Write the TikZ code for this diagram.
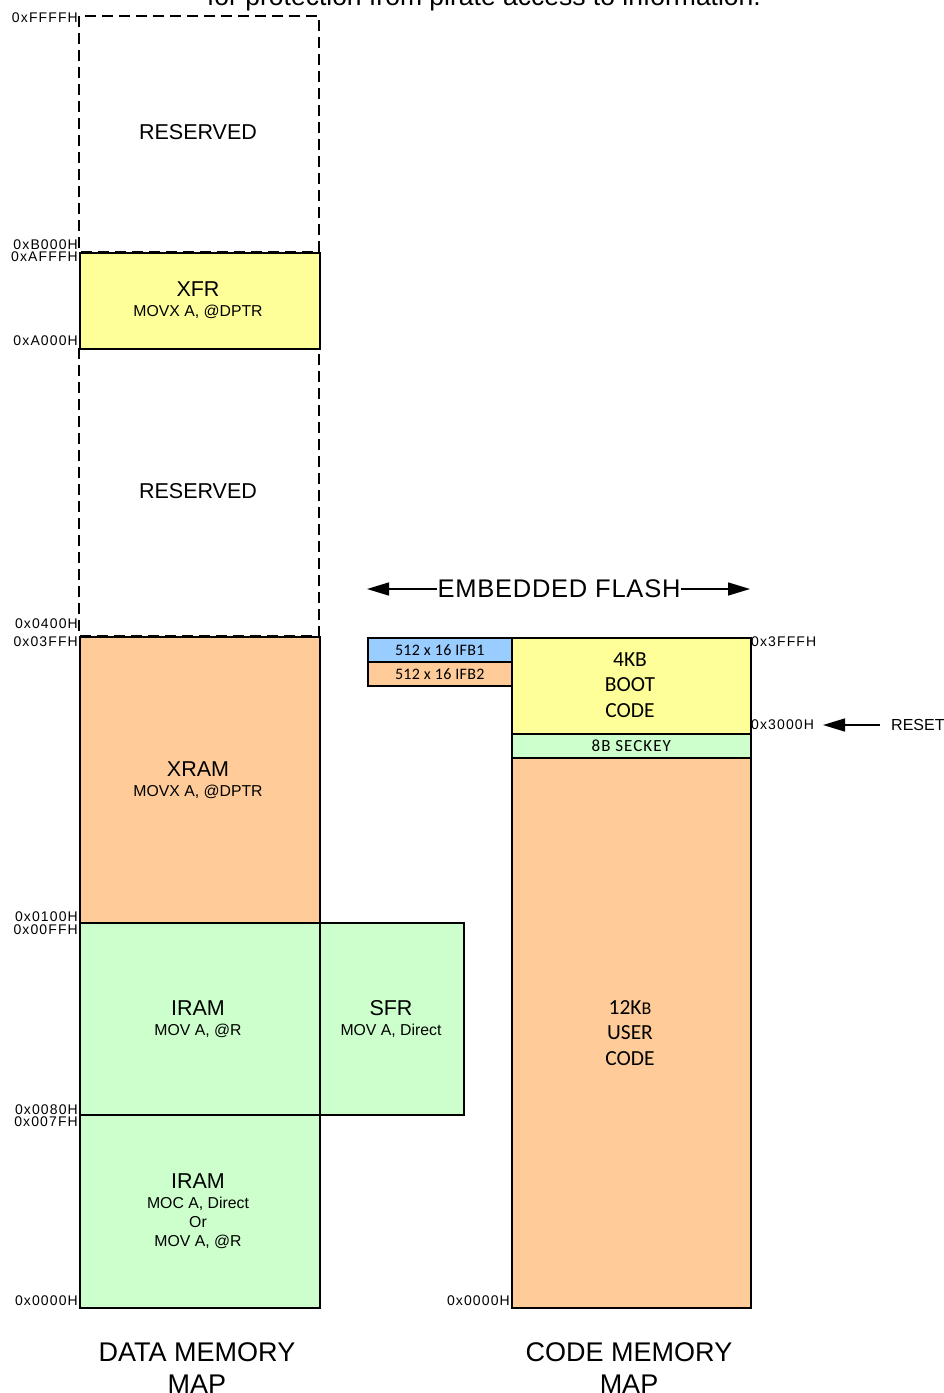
\documentclass[tikz,border=0pt]{standalone}
\usepackage{fontspec}
\setmainfont{Liberation Sans}
\newfontfamily\calib{Carlito}
\usetikzlibrary{arrows.meta}
\definecolor{cyel}{HTML}{FFFF99}
\definecolor{corg}{HTML}{FFCC99}
\definecolor{cgrn}{HTML}{CCFFCC}
\definecolor{cblu}{HTML}{99CCFF}
\tikzset{
  blk/.style={draw=black, line width=1.5pt},
  dsh/.style={draw=black, line width=1.2pt, dash pattern=on 11pt off 6pt},
  big/.style={font=\fontsize{21.5}{23}\selectfont, inner sep=0pt},
  sub/.style={font=\fontsize{15.8}{19}\selectfont, inner sep=0pt, align=center},
  cal/.style={font=\calib\fontsize{21.5}{25.5}\selectfont, inner sep=0pt, align=center},
  calsm/.style={font=\calib\fontsize{16}{17}\selectfont\addfontfeature{LetterSpace=2}, inner sep=0pt},
  addr/.style={font=\fontsize{14}{14}\selectfont\addfontfeature{LetterSpace=8}, inner sep=0pt},
  title/.style={font=\fontsize{27}{32}\selectfont, inner sep=0pt, align=center},
  arr/.style={line width=1.5pt, -{Triangle[length=22pt,width=13pt]}}
}
\begin{document}
\begin{tikzpicture}[x=1pt,y=-1pt]
\useasboundingbox (0,0) rectangle (944,1393);
% cut-off caption at top
\node[font=\fontsize{26.5}{28}\selectfont, inner sep=0pt, anchor=base] (cap) at (484,5) {for protection from pirate access to information.};
% ---------- data memory ----------
\draw[dsh] (79,16) rectangle (319,252);
\draw[dsh] (79,348) rectangle (319,636);
\node[blk, fill=cyel, minimum width=240pt, minimum height=96pt, anchor=north west, inner sep=0pt] (xfr) at (79,252) {};
\node[blk, fill=corg, minimum width=240pt, minimum height=286pt, anchor=north west, inner sep=0pt] (xram) at (79,636) {};
\node[blk, fill=cgrn, minimum width=240pt, minimum height=192pt, anchor=north west, inner sep=0pt] (iram1) at (79,922) {};
\node[blk, fill=cgrn, minimum width=144pt, minimum height=192pt, anchor=north west, inner sep=0pt] (sfr) at (319,922) {};
\node[blk, fill=cgrn, minimum width=240pt, minimum height=193pt, anchor=north west, inner sep=0pt] (iram2) at (79,1114) {};

\node[big] (res1) at (198,132) {RESERVED};
\node[big] (res2) at (198,491) {RESERVED};
\node[big] (t1) at (198,289) {XFR};
\node[sub] (s1) at (198,312) {MOVX A, @DPTR};
\node[big] (t2) at (198,769) {XRAM};
\node[sub] (s2) at (198,792) {MOVX A, @DPTR};
\node[big] (t3) at (198,1008) {IRAM};
\node[sub] (s3) at (198,1031) {MOV A, @R};
\node[big] (t4) at (391,1008) {SFR};
\node[sub] (s4) at (391,1031) {MOV A, Direct};
\node[big] (t5) at (198,1181) {IRAM};
\node[sub, anchor=north] (s5) at (198,1197) {MOC A, Direct\\Or\\MOV A, @R};

\node[addr, anchor=east] (aFFFF) at (78,18) {0xFFFFH};
\node[addr, anchor=east] (aB000) at (78,245) {0xB000H};
\node[addr, anchor=east] (aAFFF) at (78,257) {0xAFFFH};
\node[addr, anchor=east] (aA000) at (78,341) {0xA000H};
\node[addr, anchor=east] (a0400) at (78,624) {0x0400H};
\node[addr, anchor=east] (a03FF) at (78,642) {0x03FFH};
\node[addr, anchor=east] (a0100) at (78,917) {0x0100H};
\node[addr, anchor=east] (a00FF) at (78,930) {0x00FFH};
\node[addr, anchor=east] (a0080) at (78,1110) {0x0080H};
\node[addr, anchor=east] (a007F) at (78,1122) {0x007FH};
\node[addr, anchor=east] (a0000) at (78,1301) {0x0000H};

\node[title] (dmap) at (197,1368) {DATA MEMORY\\MAP};

% ---------- code memory ----------
\node[blk, fill=cyel, minimum width=239pt, minimum height=96pt, anchor=north west, inner sep=0pt] (boot) at (511,637) {};
\node[blk, fill=cgrn, minimum width=239pt, minimum height=24pt, anchor=north west, inner sep=0pt] (sec) at (511,733) {};
\node[blk, fill=corg, minimum width=239pt, minimum height=550pt, anchor=north west, inner sep=0pt] (user) at (511,757) {};
\node[blk, fill=cblu, minimum width=144pt, minimum height=24pt, anchor=north west, inner sep=0pt] (ifb1) at (367,637) {};
\node[blk, fill=corg, minimum width=144pt, minimum height=24pt, anchor=north west, inner sep=0pt] (ifb2) at (367,661) {};

\node[calsm] (ifb1t) at (ifb1.center) {512 x 16 IFB1};
\node[calsm] (ifb2t) at (ifb2.center) {512 x 16 IFB2};
\node[cal, anchor=north] (boott) at (630,652) {4KB\\BOOT\\CODE};
\node[inner sep=0pt, font=\calib\fontsize{17}{18}\selectfont\addfontfeature{LetterSpace=6}] (sect) at (sec.center) {8B SECKEY};
\node[cal, anchor=north] (usert) at (630,1000) {12K{\fontsize{18}{25}\selectfont B}\\USER\\CODE};

\node[addr, anchor=west] (a3FFF) at (751,642) {0x3FFFH};
\node[addr, anchor=west] (a3000) at (751,725) {0x3000H};
\node[addr, anchor=east] (c0000) at (510,1301) {0x0000H};
\node[font=\fontsize{16}{16}\selectfont, inner sep=0pt, anchor=west] (reset) at (891,725) {RESET};
\coordinate (rtip) at (823,725);
\draw[arr] (880,725) -- (rtip);

\node[font=\fontsize{25.5}{28}\selectfont\addfontfeature{LetterSpace=3}, inner sep=0pt] (emb) at (559,589) {EMBEDDED FLASH};
\coordinate (el) at (367,589);
\coordinate (er) at (750,589);
\draw[arr] (emb.west) -- (el);
\draw[arr] (emb.east) -- (er);

\node[title] (cmap) at (629,1368) {CODE MEMORY\\MAP};
\end{tikzpicture}
\end{document}
